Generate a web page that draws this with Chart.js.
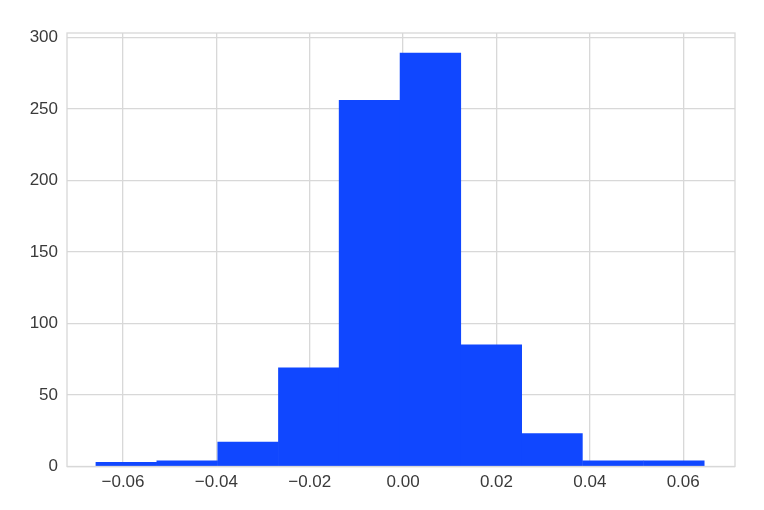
<!DOCTYPE html>
<html>
<head>
<meta charset="utf-8">
<script src="https://cdn.jsdelivr.net/npm/chart.js@4.4.1/dist/chart.umd.min.js"></script>
<style>
  html, body { margin: 0; padding: 0; background: #ffffff; }
  #wrap { width: 764px; height: 510px; position: relative; }
</style>
</head>
<body>
<div id="wrap"><canvas id="hist"></canvas></div>
<script>
// histogram bins
const binEdges = [-0.0658, -0.0528, -0.0397, -0.0267, -0.0137, -0.0007, 0.0124, 0.0254, 0.0384, 0.0515, 0.0645];
const counts = [3, 4, 17, 69, 256, 289, 85, 23, 4, 4];
const xTicks = [-0.06, -0.04, -0.02, 0.00, 0.02, 0.04, 0.06];
const yTicks = [0, 50, 100, 150, 200, 250, 300];

const barData = counts.map((c, i) => ({ x: (binEdges[i] + binEdges[i + 1]) / 2, y: c }));

const gridColor = '#d8d8d8';
const tickFont = { family: '"Liberation Sans", Arial, sans-serif', size: 17 };

// matplotlib-style frame round the plot area
const frame = {
    id: 'frame',
    afterDraw(chart) {
        const a = chart.chartArea;
        const ctx = chart.ctx;
        ctx.save();
        ctx.strokeStyle = gridColor;
        ctx.lineWidth = 1.3;
        ctx.strokeRect(a.left, a.top, a.right - a.left, a.bottom - a.top);
        ctx.restore();
    }
};

document.addEventListener('DOMContentLoaded', function() {
    const ctx = document.getElementById('hist').getContext('2d');
    new Chart(ctx, {
        type: 'bar',
        data: {
            datasets: [{
                data: barData,
                backgroundColor: '#1047ff',
                borderWidth: 0,
                barPercentage: 1.0,
                categoryPercentage: 1.0
            }]
        },
        options: {
            responsive: true,
            maintainAspectRatio: false,
            animation: false,
            layout: { padding: { top: 33, right: 29, left: 0, bottom: 0 } },
            plugins: {
                legend: { display: false },
                tooltip: { enabled: false }
            },
            scales: {
                x: {
                    type: 'linear',
                    min: -0.072,
                    max: 0.0711,
                    offset: false,
                    afterBuildTicks: s => { s.ticks = xTicks.map(v => ({ value: v })); },
                    afterFit: s => { s.height = 43.5; },
                    grid: { color: gridColor, lineWidth: 1.3, drawTicks: false, offset: false },
                    border: { display: false },
                    ticks: {
                        padding: 6,
                        color: '#3a3a3a',
                        font: tickFont,
                        maxRotation: 0,
                        callback: v => (v < 0 ? '\u2212' + Math.abs(v).toFixed(2) : v.toFixed(2))
                    }
                },
                y: {
                    min: 0,
                    max: 303,
                    afterBuildTicks: s => { s.ticks = yTicks.map(v => ({ value: v })); },
                    afterFit: s => { s.width = 67; },
                    grid: { color: gridColor, lineWidth: 1.3, drawTicks: false },
                    border: { display: false },
                    ticks: {
                        padding: 9,
                        color: '#3a3a3a',
                        font: tickFont,
                        callback: v => String(v)
                    }
                }
            }
        },
        plugins: [frame]
    });
});
</script>
</body>
</html>
